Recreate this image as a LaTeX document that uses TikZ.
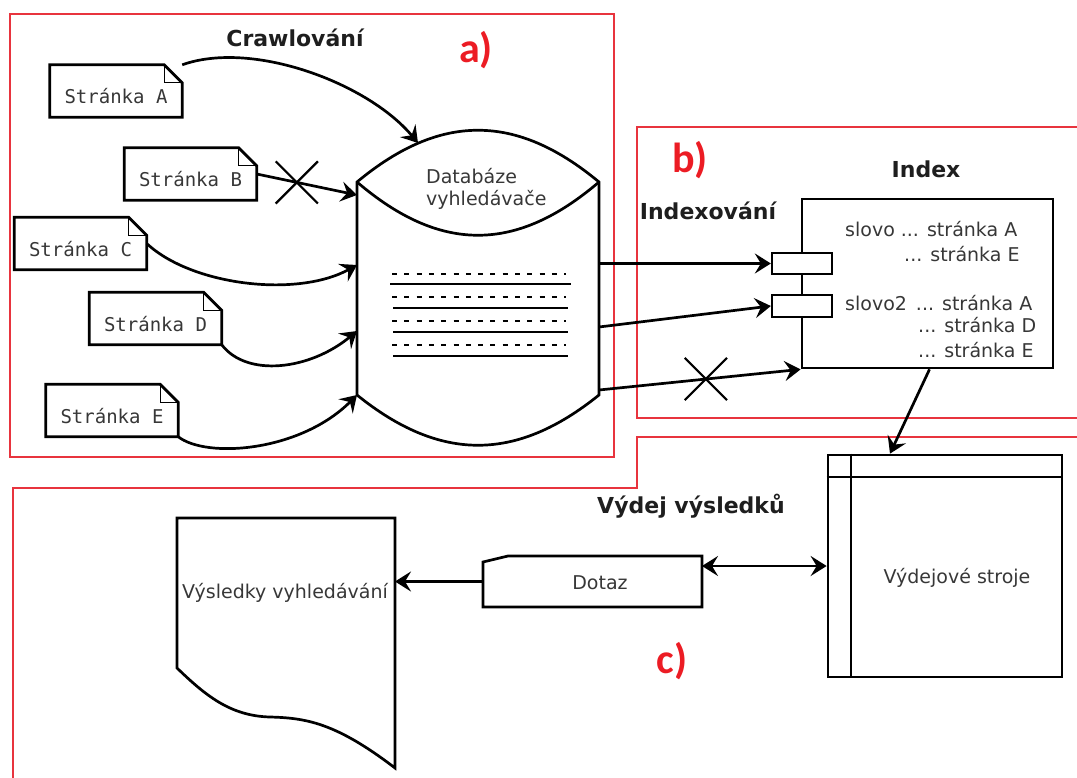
\documentclass[tikz,border=0pt]{standalone}
\usepackage{fontspec}
\setmainfont{DejaVu Sans}
\newfontfamily\monofont{DejaVu Sans Mono}
\newfontfamily\labfont{Carlito}
\usetikzlibrary{arrows.meta,shapes.misc,calc}
\definecolor{boxred}{RGB}{232,52,62}
\definecolor{labred}{RGB}{236,28,36}
\definecolor{txt}{RGB}{55,55,55}
\definecolor{headtxt}{RGB}{30,30,30}
\tikzset{bigtip/.tip={Stealth[length=16pt,width=20pt,inset=6pt]}}
\begin{document}
\begin{tikzpicture}[x=1pt,y=-1pt,
  shp/.style={line width=2.7pt},
  conn/.style={line width=2.7pt,-bigtip},
  conntwo/.style={line width=2.7pt,bigtip-bigtip},
  redbox/.style={draw=boxred,line width=1.3pt},
  page/.style={minimum width=132pt,minimum height=52pt,inner sep=0pt,text=txt,
    font=\monofont\fontsize{19}{23}\selectfont,text height=26pt,text depth=0pt},
  plain/.style={inner sep=0pt,text=txt,font=\fontsize{19}{23}\selectfont},
  head/.style={inner sep=0pt,text=headtxt,font=\bfseries\fontsize{22}{26}\selectfont},
  lab/.style={inner sep=0pt,text=labred,font=\labfont\bfseries\fontsize{42}{48}\selectfont},
  hold/.style={inner sep=0pt,outer sep=0pt},
  xmark/.style={draw,solid,cross out,minimum size=40pt,inner sep=0pt,line width=2.2pt},
  dashline/.style={line width=1.6pt,dash pattern=on 5pt off 7.3pt},
  thinline/.style={line width=1.8pt}
]
\useasboundingbox (0,0) rectangle (1077,778);
\clip (0,0) rectangle (1077,778);

% red region frames
\draw[redbox] (10,14) rectangle (614,457);
\draw[redbox] (1090,127) -- (637,127) -- (637,418) -- (1090,418);
\draw[redbox] (1090,437) -- (637,437) -- (637,488) -- (13,488) -- (13,790);

% headings and labels
\node[head,anchor=base] (hcrawl) at (295,47) {Crawlování};
\node[head,anchor=base] (hindexing) at (708,220) {Indexování};
\node[head,anchor=base] (hindex) at (926,178) {Index};
\node[head,anchor=base] (hvydej) at (691,513) {Výdej výsledků};
\node[lab,anchor=base] (la) at (476,63) {a)};
\node[lab,anchor=base] (lb) at (690,173) {b)};
\node[lab,anchor=base] (lc) at (672,673) {c)};

% pages
\node[page] (pA) at (116,91) {Stránka A};
\node[page] (pB) at (190.5,174) {Stránka B};
\node[page] (pC) at (80.5,243.5) {Stránka C};
\node[page] (pD) at (155.5,318.5) {Stránka D};
\node[page] (pE) at (112,410.5) {Stránka E};
\foreach \n in {pA,pB,pC,pD,pE}{
  \draw[shp] (\n.south west) -- (\n.north west) -- ([xshift=-18pt]\n.north east)
     -- ([yshift=-18pt]\n.north east) -- (\n.south east) -- cycle;
  \draw[line width=1.1pt] ([xshift=-18pt]\n.north east) |- ([yshift=-18pt]\n.north east);
}

% database
\node[hold,minimum width=242pt,minimum height=213pt] (db) at (478,288.5) {};
\draw[shp] (db.north west) .. controls (440,113) and (516,113) .. (db.north east)
   -- (db.south east) .. controls (516,462) and (440,462) .. (db.south west) -- cycle;
\draw[shp] (db.north west) .. controls (440,253) and (516,253) .. (db.north east);
\node[plain,anchor=base west] (dbt1) at (426,184) {Databáze};
\node[plain,anchor=base west] (dbt2) at (426,206) {vyhledávače};
\foreach \yy in {274,297,321,345} \draw[dashline] (392,\yy) -- (566,\yy);
\draw[thinline] (390,284) -- (571,284);
\foreach \yy in {308,332,356} \draw[thinline] (393,\yy) -- (568,\yy);
\coordinate (dbtop) at (418,143);

% crawling arrows
\draw[conn] (pA.north east) .. controls +(70,-25) and +(-50,-60) .. (dbtop);
\draw[conn] (pB.east) -- node[pos=0.4,xmark] (xB) {} ([yshift=-13pt]db.north west);
\draw[conn] (pC.east) .. controls +(45,42) and +(-60,33) .. ([yshift=-83pt]db.north west);
\draw[conn] (pD.south east) .. controls +(25,33) and +(-47,39) .. ([yshift=-149pt]db.north west);
\draw[conn] (pE.south east) .. controls +(28,22) and +(-57,57) .. (db.south west);

% index
\node[draw,shp,minimum width=251pt,minimum height=169pt,inner sep=0pt] (idx) at (927.5,283.5) {};
\node[draw,fill=white,line width=2.3pt,minimum width=60pt,minimum height=21pt,inner sep=0pt] (r1) at (802,263.5) {};
\node[draw,fill=white,line width=2.3pt,minimum width=60pt,minimum height=22pt,inner sep=0pt] (r2) at (802,306) {};
\node[plain,anchor=base west] (il1) at (845,237) {slovo ... stránka A};
\node[plain,anchor=base west] (il2) at (904,262) {... stránka E};
\node[plain,anchor=base west] (il3) at (845,310) {slovo2\hspace{9pt}... stránka A};
\node[plain,anchor=base west] (il4) at (918,333) {... stránka D};
\node[plain,anchor=base west] (il5) at (918,357) {... stránka E};

\draw[conn] (r1.west -| db.east) -- (r1.west);
\draw[conn] ([yshift=-38.5pt]db.east) -- (r2.west);
\draw[conn] ([yshift=5pt]db.south east) -- node[pos=0.53,xmark] (xI) {} (idx.south west);

% output engines
\node[draw,shp,minimum width=234pt,minimum height=222pt,inner sep=0pt] (vs) at (945,566) {};
\draw[line width=2.3pt] ([xshift=24pt]vs.north west) -- ([xshift=24pt]vs.south west);
\draw[line width=2.3pt] ([yshift=-23pt]vs.north west) -- ([yshift=-23pt]vs.north east);
\node[plain,anchor=base] (vst) at (957,583) {Výdejové stroje};
\draw[conn] ([xshift=2pt]idx.south) -- ([xshift=-55pt]vs.north);

% query
\node[hold,minimum width=219pt,minimum height=51pt] (dotaz) at (592.5,581.5) {};
\draw[shp] (dotaz.south west) -- ([yshift=-6pt]dotaz.north west) -- ([xshift=25pt]dotaz.north west)
   -- (dotaz.north east) -- (dotaz.south east) -- cycle;
\node[plain,anchor=base] (dott) at (600,589) {Dotaz};
\draw[conntwo] (dotaz.east |- vs.west) -- (vs.west);

% results document
\node[hold,minimum width=218pt,minimum height=150pt] (res) at (286,593) {};
\draw[shp] (res.south west) -- (res.north west) -- (res.north east) -- ([yshift=-100pt]res.south east)
   .. controls (335,722) and (305,718) .. (270,717) .. controls (230,716) and (205,695) .. (res.south west) -- cycle;
\node[plain,anchor=base] (rest) at (285,598) {Výsledky vyhledávání};
\draw[conn] (dotaz.west) -- (dotaz.west -| res.east);
\end{tikzpicture}
\end{document}
